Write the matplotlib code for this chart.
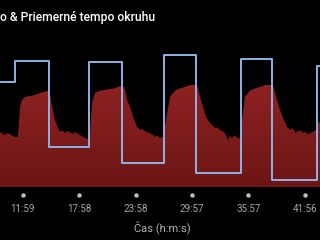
import numpy as np
import matplotlib
matplotlib.use("Agg")
import matplotlib.pyplot as plt
import matplotlib.transforms as mtransforms
from matplotlib.colors import LinearSegmentedColormap

# tempo (min/km) over time (minutes)
t_pace = [9.57, 9.85, 10.10, 10.35, 10.63, 10.90, 11.17, 11.38, 11.48, 11.70,
          11.91, 12.23, 12.76, 13.29, 13.82, 14.35, 14.67, 14.88, 15.10, 15.41,
          15.73, 15.94, 16.20, 16.48, 16.75, 17.01, 17.30, 17.54, 17.80, 18.07,
          18.35, 18.60, 18.92, 19.13, 19.34, 19.66, 20.19, 20.72, 21.26, 21.79,
          22.32, 22.64, 22.85, 23.06, 23.38, 23.70, 24.12, 24.44, 24.70, 24.97,
          25.25, 25.50, 25.80, 26.04, 26.30, 26.57, 26.88, 27.20, 27.63, 28.16,
          28.69, 29.22, 29.75, 30.28, 30.50, 30.81, 31.13, 31.45, 31.88, 32.15,
          32.41, 32.70, 32.94, 33.20, 33.47, 33.79, 34.00, 34.21, 34.42, 34.64,
          34.85, 35.06, 35.28, 35.59, 36.13, 36.66, 37.19, 37.72, 38.25, 38.57,
          38.89, 39.31, 39.63, 40.06, 40.37, 40.69, 40.90, 41.12, 41.44, 41.70,
          41.97, 42.25, 42.50, 42.82, 43.14, 43.35, 43.56]
pace = [8.66, 8.80, 8.86, 8.74, 8.80, 8.92, 8.96, 8.98, 8.90, 7.15,
        6.74, 6.56, 6.50, 6.44, 6.32, 6.24, 6.20, 6.35, 7.11, 7.95,
        8.44, 8.66, 8.58, 8.74, 8.62, 8.70, 8.80, 8.68, 8.78, 8.86,
        8.96, 9.04, 9.10, 8.80, 6.93, 6.32, 6.18, 6.14, 6.08, 6.04,
        5.90, 5.90, 6.14, 6.74, 7.15, 7.75, 8.36, 8.56, 8.48, 8.62,
        8.70, 8.74, 8.84, 8.96, 8.90, 9.04, 8.98, 7.95, 6.55, 6.18,
        6.04, 5.96, 5.84, 5.84, 5.84, 6.55, 7.15, 7.75, 8.15, 8.28,
        8.44, 8.40, 8.56, 8.62, 8.74, 9.16, 8.90, 9.04, 8.88, 8.96,
        9.06, 9.04, 7.95, 6.55, 6.18, 6.04, 5.96, 5.84, 5.84, 5.84,
        6.55, 7.35, 7.83, 8.36, 8.56, 8.44, 8.70, 8.66, 8.56, 8.72,
        8.66, 8.80, 8.76, 8.66, 8.56, 8.13, 8.06]

# average lap tempo (min/km), lap start times (minutes)
lap_start = [9.57, 11.17, 14.78, 19.06, 22.50, 27.02, 30.39, 35.12, 38.49, 43.21, 43.56]
lap_pace = [5.64, 4.37, 9.58, 4.45, 10.53, 4.01, 11.15, 4.29, 11.58, 4.69, 4.69]

tick_pos = [11.983, 17.967, 23.967, 29.95, 35.95, 41.933]
tick_labels = ["11:59", "17:58", "23:58", "29:57", "35:57", "41:56"]

pace_lo, pace_hi = 12.0, 3.0
t_lo, t_hi = 9.57, 43.56

plt.rcParams['font.family'] = ['Roboto', 'DejaVu Sans']

fig = plt.figure(figsize=(3.2, 2.4), dpi=100, facecolor="black")
ax = fig.add_axes([0, 53 / 240, 1, 149 / 240], facecolor="black")

fill = ax.fill_between(t_pace, pace, pace_lo, facecolor="none", edgecolor="none")
cmap = LinearSegmentedColormap.from_list("red", ["#6c1515", "#8e2222"])
grad = np.linspace(0, 1, 256).reshape(-1, 1)
img = ax.imshow(grad, cmap=cmap, aspect="auto", origin="lower",
                extent=[t_lo, t_hi, pace_lo, 5.8], zorder=1)
img.set_clip_path(fill.get_paths()[0], transform=ax.transData)

ax.plot(lap_start, lap_pace, drawstyle="steps-post", color="#8fb3e6", lw=1.4, zorder=3)

ax.set_xlim(t_lo, t_hi)
ax.set_ylim(pace_lo, pace_hi)
for s in ax.spines.values():
    s.set_visible(False)
ax.set_yticks([])
ax.set_xticks(tick_pos, tick_labels)
ax.tick_params(axis="x", length=0, pad=12.5, labelsize=7, labelcolor="#a8a8a8")

trans = mtransforms.blended_transform_factory(ax.transData, ax.transAxes)
ax.plot(tick_pos, [-0.054] * len(tick_pos), "o", ms=2.2, color="#bdbdbd",
        transform=trans, clip_on=False)

fig.text(162 / 320, 1 - 228 / 240, "Čas (h:m:s)", color="#b0b0b0", fontsize=8,
         ha="center", va="center")
fig.text(0, 1 - 18 / 240, "o & Priemerné tempo okruhu", color="white",
         fontsize=8.7, fontweight="medium", ha="left", va="center")

fig.savefig("out.png", dpi=100, facecolor="black")
